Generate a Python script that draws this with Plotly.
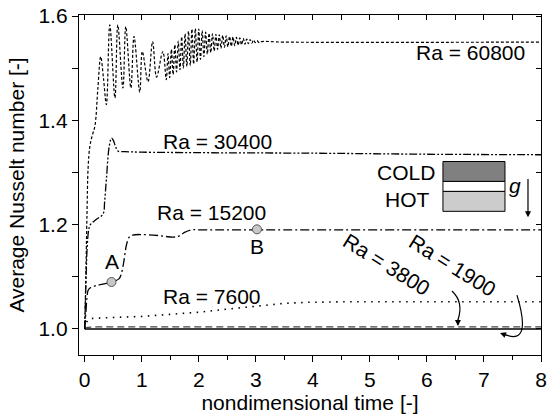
import plotly.graph_objects as go

# ---------------- data ----------------
t_1900 = [0.0, 0.5, 8.0]
nu_1900 = [1.0, 1.0, 1.0]

t_3800 = [0.0, 0.05, 0.2, 8.0]
nu_3800 = [1.0, 1.003, 1.004, 1.004]

t_7600 = [0.0, 0.03, 0.06, 0.1, 0.5, 1.0, 1.5, 2.0, 2.5, 3.0, 3.5, 3.9, 4.5, 6.0, 8.0]
nu_7600 = [1.0, 1.012, 1.018, 1.02, 1.022, 1.024, 1.028, 1.032, 1.038, 1.044, 1.049, 1.051, 1.052, 1.052, 1.052]

t_15200 = [0.0, 0.02, 0.04, 0.06, 0.1, 0.2, 0.32, 0.47, 0.6, 0.64, 0.68, 0.73, 0.78, 0.84, 1.0, 1.3,
           1.55, 1.65, 1.75, 1.87, 2.0, 3.0, 8.0]
nu_15200 = [1.0, 1.03, 1.06, 1.074, 1.079, 1.083, 1.086, 1.09, 1.096, 1.105, 1.125, 1.16, 1.176, 1.18, 1.181, 1.179,
            1.176, 1.178, 1.185, 1.19, 1.19, 1.19, 1.19]

t_30400 = [0.0, 0.02, 0.04, 0.07, 0.1, 0.2, 0.32, 0.35, 0.38, 0.43, 0.47, 0.5, 0.54, 0.585, 0.7, 1.0,
           2.0, 4.0, 6.0, 8.0]
nu_30400 = [1.0, 1.08, 1.15, 1.19, 1.2, 1.21, 1.22, 1.245, 1.287, 1.35, 1.366, 1.362, 1.35, 1.341, 1.34, 1.339,
            1.338, 1.337, 1.335, 1.334]

t_60800 = [0.0, 0.02, 0.04, 0.06, 0.09, 0.13, 0.18, 0.23, 0.28, 0.33, 0.38, 0.44, 0.53, 0.58, 0.67, 0.72,
           0.81, 0.865, 0.965, 1.01, 1.11, 1.19, 1.26, 1.37, 1.43,
           1.46, 1.49, 1.52, 1.55, 1.58, 1.61, 1.64, 1.67, 1.70, 1.73, 1.76, 1.79, 1.82, 1.85,
           1.88, 1.91, 1.94, 1.97, 2.00, 2.03, 2.06, 2.09, 2.12, 2.15, 2.18, 2.21, 2.24, 2.27,
           2.30, 2.33, 2.36, 2.39, 2.42, 2.45, 2.48, 2.51, 2.54, 2.57, 2.60, 2.63, 2.66, 2.69,
           2.72, 2.75, 2.78, 2.81, 2.84, 2.87, 2.90, 2.93, 2.96, 2.99, 3.02, 3.06, 3.10, 3.5, 8.0]
nu_60800 = [1.0, 1.1, 1.22, 1.31, 1.35, 1.37, 1.39, 1.46, 1.522, 1.48, 1.43, 1.583, 1.443, 1.583, 1.462, 1.58,
            1.462, 1.561, 1.454, 1.532, 1.474, 1.551, 1.483, 1.532, 1.478,
            1.528, 1.482, 1.536, 1.488, 1.545, 1.493, 1.552, 1.497, 1.560, 1.500, 1.566, 1.503, 1.571, 1.505,
            1.575, 1.508, 1.576, 1.512, 1.575, 1.517, 1.572, 1.522, 1.569, 1.527, 1.567, 1.530, 1.566, 1.533,
            1.565, 1.536, 1.564, 1.538, 1.563, 1.540, 1.562, 1.541, 1.561, 1.542, 1.560, 1.543, 1.559, 1.544,
            1.558, 1.545, 1.557, 1.546, 1.556, 1.547, 1.555, 1.548, 1.554, 1.549, 1.553, 1.549, 1.551, 1.55, 1.55]

point_labels = ["A", "B"]
point_t = [0.47, 3.02]
point_nu = [1.09, 1.191]

x_ticks = [0, 1, 2, 3, 4, 5, 6, 7, 8]
y_ticks = [1.0, 1.2, 1.4, 1.6]

# ---------------- figure ----------------
FONT = "Liberation Sans, Arial, sans-serif"
FS = 21

fig = go.Figure()

def add_line(t, nu, dash, width=1.3, color="black", shape="linear"):
    fig.add_trace(go.Scatter(x=t, y=nu, mode="lines",
                             line=dict(color=color, width=width, dash=dash, shape=shape),
                             hoverinfo="skip", showlegend=False))

add_line(t_1900, nu_1900, "solid", 1.6)
add_line(t_3800, nu_3800, "7px,4px", 1.4, "#444444")
add_line(t_7600, nu_7600, "1.5px,5.5px", 1.6)
add_line(t_15200, nu_15200, "9px,3px,2px,3px", 1.3, shape="spline")
add_line(t_30400, nu_30400, "8px,2px,2px,2px,2px,2px", 1.3, shape="spline")
add_line(t_60800, nu_60800, "3px,2px", 1.2, shape="spline")

fig.add_trace(go.Scatter(x=point_t, y=point_nu, mode="markers",
                         marker=dict(size=9, color="#c8c8c8", line=dict(color="#555555", width=1)),
                         hoverinfo="skip", showlegend=False))

# pixel -> data helpers for decoration placement
X0_PX, PX_PER_X = 85.0, 57.0
Y1_PX, PX_PER_Y = 330.0, 523.3
def px2x(px):
    return (px - X0_PX) / PX_PER_X
def py2y(py):
    return 1.0 + (Y1_PX - py) / PX_PER_Y

tf = dict(family=FONT, size=FS, color="black")
ann = []
ann.append(dict(x=px2x(527), y=py2y(53), text="Ra = 60800", xanchor="right", yanchor="middle", showarrow=False, font=tf))
ann.append(dict(x=px2x(218), y=py2y(142), text="Ra = 30400", showarrow=False, font=tf))
ann.append(dict(x=px2x(212), y=py2y(213), text="Ra = 15200", showarrow=False, font=tf))
ann.append(dict(x=px2x(212), y=py2y(297), text="Ra = 7600", showarrow=False, font=tf))
ann.append(dict(x=px2x(387), y=py2y(265), text="Ra = 3800", textangle=32, showarrow=False, font=tf))
ann.append(dict(x=px2x(453), y=py2y(266), text="Ra = 1900", textangle=32, showarrow=False, font=tf))
for lab, t, nu in zip(point_labels, point_t, point_nu):
    ann.append(dict(x=t, y=nu, text=lab, showarrow=False, font=tf, yshift=20 if lab == "A" else -17))
ann.append(dict(x=px2x(437), y=py2y(173), text="COLD", xanchor="right", showarrow=False, font=tf))
ann.append(dict(x=px2x(432), y=py2y(200), text="HOT", xanchor="right", showarrow=False, font=tf))
ann.append(dict(x=px2x(515), y=py2y(186), text="<i>g</i>", showarrow=False, font=tf))
# gravity arrow
ann.append(dict(x=px2x(528), y=py2y(218), ax=px2x(528), ay=py2y(178), axref="x", ayref="y",
                xref="x", yref="y", text="", showarrow=True, arrowhead=2, arrowsize=1, arrowwidth=1.2,
                arrowcolor="black"))
# arrowheads of curved arrows
ann.append(dict(x=px2x(458), y=py2y(327), ax=0, ay=-8, text="", showarrow=True, arrowhead=2,
                arrowsize=1, arrowwidth=1.2, arrowcolor="black"))
ann.append(dict(x=px2x(500), y=py2y(334), ax=8, ay=3, text="", showarrow=True, arrowhead=2,
                arrowsize=1, arrowwidth=1.2, arrowcolor="black"))

shapes = []
def rect(x0, x1, y0, y1, fill):
    shapes.append(dict(type="rect", xref="x", yref="y", x0=px2x(x0), x1=px2x(x1),
                       y0=py2y(y0), y1=py2y(y1), fillcolor=fill, line=dict(color="black", width=1)))
rect(443, 505, 162, 182, "#808080")
rect(443, 505, 182, 192, "white")
rect(443, 505, 192, 212, "#cccccc")

def qpath(p0, p1, p2):
    return "M {},{} Q {},{} {},{}".format(px2x(p0[0]), py2y(p0[1]), px2x(p1[0]), py2y(p1[1]),
                                          px2x(p2[0]), py2y(p2[1]))
shapes.append(dict(type="path", xref="x", yref="y", path=qpath((452, 292), (464, 303), (458, 321)),
                   line=dict(color="black", width=1.2)))
shapes.append(dict(type="path", xref="x", yref="y", path=qpath((517, 296), (532, 346), (506, 336)),
                   line=dict(color="black", width=1.2)))

axis_common = dict(showline=True, linecolor="black", linewidth=1.3, showgrid=False, zeroline=False,
                   tickcolor="black", automargin=False,
                   tickfont=dict(family=FONT, size=FS, color="black"))

fig.update_layout(
    width=548, height=420,
    margin=dict(l=79, r=7, t=15, b=65),
    paper_bgcolor="white", plot_bgcolor="white",
    font=dict(family=FONT, size=FS, color="black"),
    xaxis=dict(range=[-0.1, 8.0], tickvals=x_ticks, ticks="outside", ticklen=6, tickwidth=1.2,
               minor=dict(dtick=0.5, ticks="outside", ticklen=4, tickwidth=1.2, tickcolor="black"),
               title=dict(text="nondimensional time [-]", font=dict(family=FONT, size=FS), standoff=2),
               **axis_common),
    yaxis=dict(range=[0.95, 1.602], tickvals=y_ticks, ticktext=["1.0", "1.2", "1.4", "1.6"],
               ticks="outside", ticklen=6, tickwidth=1.2,
               minor=dict(dtick=0.1, tick0=1.0, ticks="outside", ticklen=6, tickwidth=1.2, tickcolor="black"),
               title=dict(text="Average Nusselt number [-]", font=dict(family=FONT, size=FS), standoff=8),
               **axis_common),
    xaxis2=dict(overlaying="x", side="top", matches="x", range=[-0.1, 8.0], tickvals=x_ticks, ticks="inside",
                ticklen=5, tickwidth=1.2, showticklabels=False, showline=True, linecolor="black", linewidth=1.3,
                minor=dict(dtick=0.5, ticks="inside", ticklen=5, tickwidth=1.2, tickcolor="black"),
                showgrid=False, zeroline=False, tickcolor="black", automargin=False),
    yaxis2=dict(overlaying="y", side="right", matches="y", range=[0.95, 1.602], tickvals=y_ticks, ticks="inside",
                ticklen=5, tickwidth=1.2, showticklabels=False, showline=True, linecolor="black", linewidth=1.3,
                minor=dict(dtick=0.1, tick0=1.0, ticks="inside", ticklen=5, tickwidth=1.2, tickcolor="black"),
                showgrid=False, zeroline=False, tickcolor="black", automargin=False),
    annotations=ann, shapes=shapes,
)
# invisible trace to activate secondary axes
fig.add_trace(go.Scatter(x=[0], y=[1.0], xaxis="x2", yaxis="y2", mode="markers",
                         marker=dict(opacity=0), hoverinfo="skip", showlegend=False))

fig.write_html("out.html", config={"displayModeBar": False},
               post_script="document.body.style.margin='0';document.body.style.padding='0';")
